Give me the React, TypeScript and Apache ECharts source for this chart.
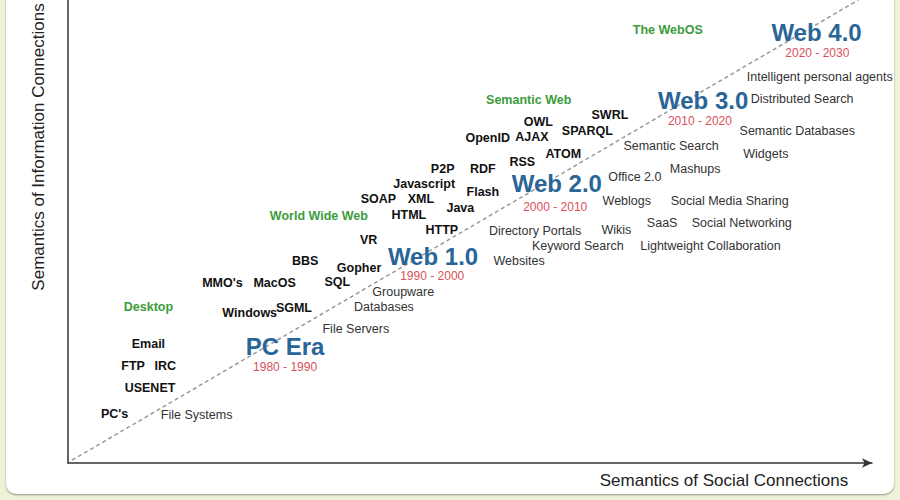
import React, { useEffect, useRef } from "react";
import * as echarts from "echarts";

// Technologies (black bold)
const techNames = ["PC's", "USENET", "FTP", "IRC", "Email", "Windows", "SGML", "MMO's", "MacOS", "BBS", "SQL", "Gopher", "VR", "HTTP", "HTML", "Java", "SOAP", "XML", "Javascript", "Flash", "P2P", "RDF", "RSS", "ATOM", "OpenID", "AJAX", "OWL", "SPARQL", "SWRL"];
const techX = [5.8, 10.2, 8.1, 12.1, 10.0, 22.6, 28.1, 19.2, 25.7, 29.5, 33.5, 36.2, 37.4, 46.5, 42.4, 48.8, 38.6, 43.9, 44.3, 51.6, 46.6, 51.6, 56.5, 61.6, 52.2, 57.7, 58.5, 64.6, 67.4];
const techY = [10.6, 16.2, 21.0, 21.0, 25.7, 32.4, 33.5, 38.9, 38.9, 43.6, 39.1, 42.1, 48.2, 50.3, 53.6, 55.1, 57.0, 57.0, 60.3, 58.5, 63.5, 63.5, 65.0, 66.7, 70.2, 70.4, 73.7, 71.7, 75.2];

// Platform labels (green)
const platformNames = ["Desktop", "World Wide Web", "Semantic Web", "The WebOS"];
const platformX = [10.0, 31.2, 57.3, 74.6];
const platformY = [33.7, 53.3, 78.4, 93.5];

// Eras (blue) and their dates (red)
const eraNames = ["PC Era", "Web 1.0", "Web 2.0", "Web 3.0", "Web 4.0"];
const eraX = [27.0, 45.4, 60.8, 79.0, 93.1];
const eraY = [25.1, 44.7, 60.3, 78.2, 92.9];
const dateNames = ["1980 - 1990", "1990 - 2000", "2000 - 2010", "2010 - 2020", "2020 - 2030"];
const dateX = [27.0, 45.3, 60.6, 78.6, 93.2];
const dateY = [20.7, 40.4, 55.3, 73.9, 88.6];

// Social / application labels (gray)
const appNames = ["File Systems", "File Servers", "Databases", "Groupware", "Websites", "Directory Portals", "Keyword Search", "Wikis", "Weblogs", "Office 2.0", "Semantic Search", "Mashups", "Social Media Sharing", "SaaS", "Social Networking", "Lightweight Collaboration", "Widgets", "Semantic Databases", "Distributed Search", "Intelligent personal agents"];
const appX = [16.0, 35.8, 39.3, 41.7, 56.1, 58.1, 63.4, 68.2, 69.5, 70.5, 75.0, 78.0, 82.3, 73.9, 83.8, 79.9, 86.8, 90.7, 91.3, 93.5];
const appY = [10.4, 28.9, 33.7, 36.9, 43.6, 50.1, 46.9, 50.3, 56.6, 61.8, 68.5, 63.5, 56.6, 51.8, 51.8, 46.9, 66.7, 71.7, 78.6, 83.4];

// Trend line
const trendX = [0.5, 98.3];
const trendY = [0.6, 100];

const xAxisTitle = "Semantics of Social Connections";
const yAxisTitle = "Semantics of Information Connections";

const FONT = "'Liberation Sans', Arial, sans-serif";

function labelSeries(names: string[], xs: number[], ys: number[], style: any) {
  return {
    type: "scatter",
    symbolSize: 0,
    itemStyle: { color: "rgba(0,0,0,0)", opacity: 1 },
    silent: true,
    z: 5,
    data: names.map((n, i) => ({ name: n, value: [xs[i], ys[i]] })),
    label: {
      show: true,
      position: "inside",
      formatter: "{b}",
      fontFamily: FONT,
      opacity: 1,
      textBorderWidth: 0,
      ...style,
    },
  };
}

export default function App() {
  const ref = useRef<HTMLDivElement>(null);
  useEffect(() => {
    if (!ref.current) return;
    const chart = echarts.init(ref.current, undefined, { renderer: "svg" });
    const axisCommon = {
      type: "value",
      min: 0,
      max: 100,
      axisTick: { show: false },
      axisLabel: { show: false },
      splitLine: { show: false },
    };
    chart.setOption({
      animation: false,
      backgroundColor: "transparent",
      grid: { left: 68, right: 28, top: 0, bottom: 37 },
      xAxis: {
        ...axisCommon,
        axisLine: {
          show: true,
          symbol: ["none", "arrow"],
          symbolSize: [7, 10],
          lineStyle: { color: "#333", width: 1.5 },
        },
      },
      yAxis: {
        ...axisCommon,
        axisLine: { show: true, lineStyle: { color: "#333", width: 1.5 } },
      },
      graphic: [
        {
          type: "text",
          x: 724,
          y: 480,
          style: {
            text: xAxisTitle,
            font: `17px ${FONT}`,
            fill: "#222",
            textAlign: "center",
            textVerticalAlign: "middle",
          },
        },
        {
          type: "text",
          x: 38,
          y: 147,
          rotation: Math.PI / 2,
          style: {
            text: yAxisTitle,
            font: `17px ${FONT}`,
            fill: "#222",
            textAlign: "center",
            textVerticalAlign: "middle",
          },
        },
      ],
      series: [
        {
          type: "line",
          silent: true,
          symbol: "none",
          z: 1,
          data: trendX.map((x, i) => [x, trendY[i]]),
          lineStyle: { color: "#9a9a9a", width: 1.5, type: [4, 3] },
        },
        labelSeries(techNames, techX, techY, { fontSize: 12.5, fontWeight: "bold", color: "#111111" }),
        labelSeries(platformNames, platformX, platformY, { fontSize: 12.5, fontWeight: "bold", color: "#3c9c3c" }),
        labelSeries(eraNames, eraX, eraY, { fontSize: 24, fontWeight: "bold", color: "#2a6598" }),
        labelSeries(dateNames, dateX, dateY, { fontSize: 12, color: "#d9505c" }),
        labelSeries(appNames, appX, appY, { fontSize: 12.5, color: "#333333" }),
      ],
    });
    return () => chart.dispose();
  }, []);

  return (
    <div
      style={{
        position: "absolute",
        left: 0,
        top: 0,
        width: 900,
        height: 500,
        overflow: "hidden",
        background: "#edf2d8",
      }}
    >
      <div
        style={{
          position: "absolute",
          left: 6,
          top: -20,
          width: 888,
          height: 514,
          borderRadius: 10,
          background: "#ffffff",
          boxShadow: "0 1px 2px rgba(0,0,0,0.4)",
        }}
      />
      <div ref={ref} style={{ position: "absolute", left: 0, top: 0, width: 900, height: 500 }} />
    </div>
  );
}
